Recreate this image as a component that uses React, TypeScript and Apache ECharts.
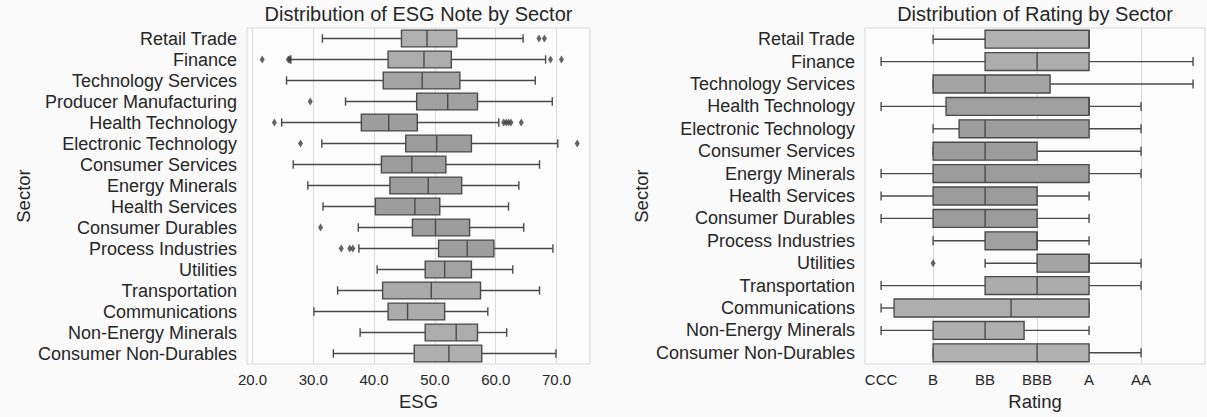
import React, { useEffect, useRef } from "react";
import * as echarts from "echarts";

// ---------- ESG chart data ----------
const esgSectors = [
  "Retail Trade", "Finance", "Technology Services", "Producer Manufacturing",
  "Health Technology", "Electronic Technology", "Consumer Services", "Energy Minerals",
  "Health Services", "Consumer Durables", "Process Industries", "Utilities",
  "Transportation", "Communications", "Non-Energy Minerals", "Consumer Non-Durables",
];
const esgMin = [31.5, 26.3, 25.6, 35.3, 24.8, 31.4, 26.7, 29.1, 31.6, 37.4, 37.5, 40.5, 34.0, 30.1, 37.7, 33.3];
const esgQ1 = [44.5, 42.3, 41.5, 47.0, 37.9, 45.2, 41.2, 42.6, 40.2, 46.3, 50.6, 48.4, 41.4, 42.3, 48.4, 46.6];
const esgMedian = [48.7, 48.2, 47.9, 52.1, 42.4, 50.3, 46.2, 48.9, 46.7, 50.1, 55.3, 51.6, 49.4, 45.5, 53.5, 52.3];
const esgQ3 = [53.6, 52.7, 54.1, 57.0, 47.1, 56.0, 51.8, 54.4, 50.8, 55.7, 59.7, 56.0, 57.5, 51.6, 57.0, 57.7];
const esgMax = [64.5, 68.2, 66.5, 69.3, 60.5, 70.2, 67.2, 63.8, 62.1, 64.6, 69.4, 62.8, 67.2, 58.7, 61.8, 69.9];
const esgOutlierSector = [
  "Retail Trade", "Retail Trade",
  "Finance", "Finance", "Finance", "Finance", "Finance",
  "Producer Manufacturing",
  "Health Technology", "Health Technology", "Health Technology", "Health Technology", "Health Technology", "Health Technology",
  "Electronic Technology", "Electronic Technology",
  "Consumer Durables",
  "Process Industries", "Process Industries", "Process Industries",
];
const esgOutlierValue = [
  67.1, 68.0,
  21.6, 25.9, 26.1, 69.0, 70.8,
  29.5,
  23.6, 61.3, 61.7, 62.1, 62.5, 64.2,
  27.9, 73.4,
  31.2,
  34.6, 36.0, 36.5,
];
const esgTicks = [20, 30, 40, 50, 60, 70];

// ---------- Rating chart data ----------
const ratingSectors = [
  "Retail Trade", "Finance", "Technology Services", "Health Technology",
  "Electronic Technology", "Consumer Services", "Energy Minerals", "Health Services",
  "Consumer Durables", "Process Industries", "Utilities", "Transportation",
  "Communications", "Non-Energy Minerals", "Consumer Non-Durables",
];
const ratingLabels = ["CCC", "B", "BB", "BBB", "A", "AA"];
const ratingMin = [1, 0, 1, 0, 1, 1, 0, 0, 0, 1, 2, 0, 0, 0, 1];
const ratingQ1 = [2, 2, 1, 1.25, 1.5, 1, 1, 1, 1, 2, 3, 2, 0.25, 1, 1];
const ratingMedian = [4, 3, 2, 4, 2, 2, 2, 2, 2, 3, 4, 3, 2.5, 2, 3];
const ratingQ3 = [4, 4, 3.25, 4, 4, 3, 4, 3, 3, 3, 4, 4, 4, 2.75, 4];
const ratingMax = [4, 6, 6, 5, 5, 5, 5, 4, 4, 4, 5, 5, 4, 4, 5];
const ratingOutlierSector = ["Utilities"];
const ratingOutlierValue = [1];
const ratingGridValues = [1, 3, 5];

// ---------- styles ----------
const esgColors = [
  "#b1b1b1", "#adadad", "#a4a4a4", "#a1a1a1", "#9e9e9e", "#9c9c9c", "#9c9c9c", "#9d9d9d",
  "#9d9d9d", "#9c9c9c", "#9e9e9e", "#a3a3a3", "#aaaaaa", "#acacac", "#adadad", "#aeaeae",
];
const ratingColors = [
  "#b1b1b1", "#adadad", "#a4a4a4", "#9f9f9f", "#9d9d9d", "#9c9c9c", "#9c9c9c", "#9c9c9c",
  "#9c9c9c", "#a0a0a0", "#a4a4a4", "#acacac", "#afafaf", "#afafaf", "#b0b0b0",
];
const FONT = "'Liberation Sans', Arial, Helvetica, sans-serif";
const TEXT = "#262626";
const EDGE = "#4a4a4a";

function makeRenderItem(colors: string[]) {
  return (params: any, api: any) => {
    const idx = api.value(0);
    const vMin = api.value(1), q1 = api.value(2), med = api.value(3), q3 = api.value(4), vMax = api.value(5);
    const band = api.size([0, 1])[1];
    const bw = band * 0.8;
    const half = bw / 2;
    const cap = bw / 4;
    const pMin = api.coord([vMin, idx]);
    const pQ1 = api.coord([q1, idx]);
    const pMed = api.coord([med, idx]);
    const pQ3 = api.coord([q3, idx]);
    const pMax = api.coord([vMax, idx]);
    const y = pMin[1];
    const lineStyle = { stroke: EDGE, lineWidth: 1.4 };
    const children: any[] = [
      { type: "line", shape: { x1: pMin[0], y1: y, x2: pQ1[0], y2: y }, style: lineStyle },
      { type: "line", shape: { x1: pQ3[0], y1: y, x2: pMax[0], y2: y }, style: lineStyle },
      { type: "line", shape: { x1: pMin[0], y1: y - cap, x2: pMin[0], y2: y + cap }, style: lineStyle },
      { type: "line", shape: { x1: pMax[0], y1: y - cap, x2: pMax[0], y2: y + cap }, style: lineStyle },
      {
        type: "rect",
        shape: { x: pQ1[0], y: y - half, width: pQ3[0] - pQ1[0], height: bw },
        style: { fill: colors[idx], stroke: EDGE, lineWidth: 1.4 },
      },
      { type: "line", shape: { x1: pMed[0], y1: y - half, x2: pMed[0], y2: y + half }, style: lineStyle },
    ];
    return { type: "group", children };
  };
}

export default function App() {
  const ref = useRef<HTMLDivElement>(null);
  useEffect(() => {
    document.body.style.margin = "0";
    const chart = echarts.init(ref.current!, null, { renderer: "svg" });

    const esgData = esgSectors.map((_, i) => [i, esgMin[i], esgQ1[i], esgMedian[i], esgQ3[i], esgMax[i]]);
    const ratingData = ratingSectors.map((_, i) => [i, ratingMin[i], ratingQ1[i], ratingMedian[i], ratingQ3[i], ratingMax[i]]);
    const esgOut = esgOutlierValue.map((v, i) => [v, esgSectors.indexOf(esgOutlierSector[i])]);
    const ratingOut = ratingOutlierValue.map((v, i) => [v, ratingSectors.indexOf(ratingOutlierSector[i])]);

    const catAxis = (gridIndex: number, data: string[]) => ({
      type: "category",
      gridIndex,
      data,
      inverse: true,
      name: "Sector",
      nameLocation: "middle",
      nameGap: 214,
      nameTextStyle: { fontSize: 18.5, color: TEXT, fontFamily: FONT },
      axisLine: { show: false },
      axisTick: { show: false },
      splitLine: { show: false },
      axisLabel: { interval: 0, hideOverlap: false, fontSize: 18, color: TEXT, fontFamily: FONT, margin: 10 },
    });

    chart.setOption({
      animation: false,
      backgroundColor: "#fafafa",
      title: [
        {
          text: "Distribution of ESG Note by Sector",
          left: 418.5, top: 4, textAlign: "center", padding: 0,
          textStyle: { fontSize: 20, fontWeight: "normal", color: TEXT, fontFamily: FONT },
        },
        {
          text: "Distribution of Rating by Sector",
          left: 1035, top: 4, textAlign: "center", padding: 0,
          textStyle: { fontSize: 20, fontWeight: "normal", color: TEXT, fontFamily: FONT },
        },
      ],
      grid: [
        { left: 247, top: 28, width: 343, height: 336, show: true, borderColor: "#d9d9d9", borderWidth: 1, backgroundColor: "#fcfcfc" },
        { left: 865, top: 28, width: 340, height: 336, show: true, borderColor: "#d9d9d9", borderWidth: 1, backgroundColor: "#fcfcfc" },
      ],
      xAxis: [
        {
          type: "value", gridIndex: 0, min: 19.1, max: 75.5,
          name: "ESG", nameLocation: "middle", nameGap: 26,
          nameTextStyle: { fontSize: 18.5, color: TEXT, fontFamily: FONT },
          axisLine: { show: false },
          axisTick: { show: false, customValues: esgTicks },
          axisLabel: { customValues: esgTicks, fontSize: 15, color: TEXT, fontFamily: FONT, margin: 8, formatter: (v: number) => v.toFixed(1) },
          splitLine: { show: true, lineStyle: { color: "#d9d9d9", width: 1 } },
        },
        {
          type: "value", gridIndex: 1, min: -0.31, max: 6.23,
          name: "Rating", nameLocation: "middle", nameGap: 26,
          nameTextStyle: { fontSize: 18.5, color: TEXT, fontFamily: FONT },
          axisLine: { show: false },
          axisTick: { show: false, customValues: ratingGridValues },
          axisLabel: {
            customValues: ratingLabels.map((_, i) => i), fontSize: 15, color: TEXT, fontFamily: FONT, margin: 8,
            formatter: (v: number) => ratingLabels[Math.round(v)] ?? "",
          },
          splitLine: { show: true, lineStyle: { color: "#d9d9d9", width: 1 } },
        },
      ],
      yAxis: [catAxis(0, esgSectors), catAxis(1, ratingSectors)],
      series: [
        {
          type: "custom", xAxisIndex: 0, yAxisIndex: 0,
          renderItem: makeRenderItem(esgColors),
          encode: { x: [1, 2, 3, 4, 5], y: 0 },
          data: esgData,
        },
        {
          type: "scatter", xAxisIndex: 0, yAxisIndex: 0,
          symbol: "diamond", symbolSize: [5, 8],
          itemStyle: { color: "#3d3d3d" },
          data: esgOut,
        },
        {
          type: "custom", xAxisIndex: 1, yAxisIndex: 1,
          renderItem: makeRenderItem(ratingColors),
          encode: { x: [1, 2, 3, 4, 5], y: 0 },
          data: ratingData,
        },
        {
          type: "scatter", xAxisIndex: 1, yAxisIndex: 1,
          symbol: "diamond", symbolSize: [5, 8],
          itemStyle: { color: "#3d3d3d" },
          data: ratingOut,
        },
      ],
    });
    return () => chart.dispose();
  }, []);
  return <div ref={ref} style={{ position: "absolute", left: 0, top: 0, width: 1207, height: 417 }} />;
}
